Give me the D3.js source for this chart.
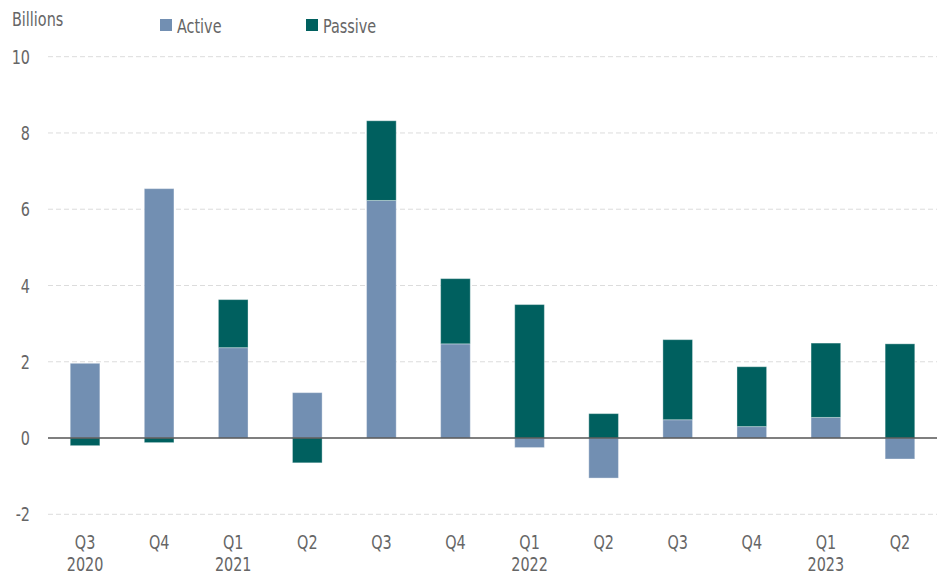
<!DOCTYPE html>
<html><head><meta charset="utf-8">
<script src="https://cdn.jsdelivr.net/npm/d3@7"></script>
<style>
body{margin:0;background:#fff;}
svg text{font-family:"DejaVu Sans Condensed","DejaVu Sans",sans-serif;font-stretch:condensed;fill:#666;font-size:20px;}
</style></head><body>
<svg id="c" width="949" height="577"></svg>
<script>
const quarters = ["Q3","Q4","Q1","Q2","Q3","Q4","Q1","Q2","Q3","Q4","Q1","Q2"];
const years    = ["2020","","2021","","","","2022","","","","2023",""];
const active   = [1.96, 6.54, 2.37, 1.19, 6.23, 2.47, -0.25, -1.05, 0.48, 0.30, 0.54, -0.55];
const passive  = [-0.20, -0.12, 1.26, -0.65, 2.09, 1.71, 3.50, 0.64, 2.10, 1.57, 1.95, 2.47];
const yTicks   = [-2, 0, 2, 4, 6, 8, 10];
const seriesNames = ["Active","Passive"];
const colors = ["#728fb2","#00605f"];

(function(){
const svg = d3.select("#c");
const mLeft = 48, mRight = 937, mTop = 56.7, mBottom = 514.3;
const SX = 0.8;
const x = d3.scaleBand().domain(d3.range(quarters.length)).range([mLeft, mRight]).paddingInner(0.6).paddingOuter(0.3);
const y = d3.scaleLinear().domain([-2, 10]).range([mBottom, mTop]);
const tr = (px, py) => `translate(${px},${py}) scale(${SX},1)`;

svg.append("g").selectAll("line").data(yTicks.filter(d => d !== 0)).join("line")
  .attr("x1", mLeft).attr("x2", mRight)
  .attr("y1", d => y(d)).attr("y2", d => y(d))
  .attr("stroke", "#dcdcdc").attr("stroke-width", 1).attr("stroke-dasharray", "5,3");

svg.append("g").selectAll("text").data(yTicks).join("text")
  .attr("transform", d => tr(30, y(d) + 7))
  .attr("text-anchor", "end").text(d => d);

const bars = [];
quarters.forEach((q, i) => {
  let pos = 0, neg = 0;
  [active[i], passive[i]].forEach((v, s) => {
    let y0, y1;
    if (v >= 0) { y0 = pos; y1 = pos + v; pos = y1; }
    else { y0 = neg; y1 = neg + v; neg = y1; }
    bars.push({i, s, y0, y1});
  });
});
svg.append("g").selectAll("rect").data(bars).join("rect")
  .attr("x", d => x(d.i)).attr("width", x.bandwidth())
  .attr("y", d => y(Math.max(d.y0, d.y1)))
  .attr("height", d => Math.abs(y(d.y0) - y(d.y1)))
  .attr("fill", d => colors[d.s])
  .attr("stroke", "rgba(255,255,255,0.35)").attr("stroke-width", 1);

svg.append("line").attr("x1", mLeft).attr("x2", mRight).attr("y1", y(0)).attr("y2", y(0))
  .attr("stroke", "#555").attr("stroke-width", 1.5);

const xl = svg.append("g");
xl.selectAll("text.q").data(quarters).join("text").attr("class","q")
  .attr("transform", (d, i) => tr(x(i) + x.bandwidth()/2, 549))
  .attr("text-anchor", "middle").text(d => d);
xl.selectAll("text.yr").data(years).join("text").attr("class","yr")
  .attr("transform", (d, i) => tr(x(i) + x.bandwidth()/2, 571))
  .attr("text-anchor", "middle").text(d => d);

svg.append("text").attr("transform", tr(12, 26)).text("Billions");

const legX = [160, 306];
const lg = svg.append("g");
seriesNames.forEach((n, k) => {
  lg.append("rect").attr("x", legX[k]).attr("y", 19).attr("width", 12).attr("height", 12).attr("fill", colors[k]);
  lg.append("text").attr("transform", tr(legX[k] + 17, 33)).text(n);
});
})();
</script>
</body></html>
